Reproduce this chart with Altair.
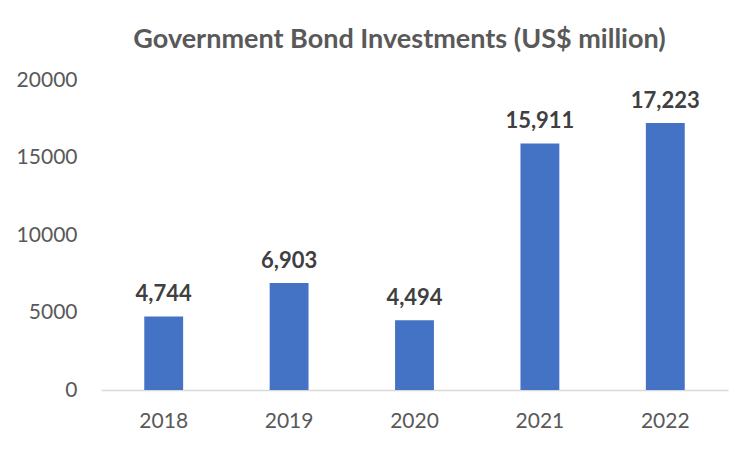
import altair as alt
import pandas as pd

years = ["2018", "2019", "2020", "2021", "2022"]
values = [4744, 6903, 4494, 15911, 17223]
labels = ["4,744", "6,903", "4,494", "15,911", "17,223"]

df = pd.DataFrame({"year": years, "value": values, "label": labels})

FONT = "Lato"

base = alt.Chart(df).encode(
    x=alt.X(
        "year:N",
        sort=years,
        scale=alt.Scale(paddingInner=0.69, paddingOuter=0.345),
        axis=alt.Axis(
            title=None,
            labelAngle=0,
            ticks=False,
            domain=True,
            domainColor="#D9D9D9",
            domainWidth=1.5,
            labelFont=FONT,
            labelFontSize=21,
            labelColor="#595959",
            labelPadding=20,
        ),
    ),
    y=alt.Y(
        "value:Q",
        scale=alt.Scale(domain=[0, 20000], nice=False),
        axis=alt.Axis(
            title=None,
            values=[0, 5000, 10000, 15000, 20000],
            format="d",
            grid=False,
            ticks=False,
            domain=False,
            labelFont=FONT,
            labelFontSize=21,
            labelColor="#595959",
            labelPadding=24,
        ),
    ),
)

bars = base.mark_bar(color="#4472C4")
text = base.mark_text(
    baseline="bottom",
    dy=-10,
    font=FONT,
    fontSize=22,
    fontWeight="bold",
    color="#404040",
).encode(text="label:N")

chart = (
    (bars + text)
    .properties(
        width=627,
        height=310,
        padding={"left": 93, "top": 72, "right": 16, "bottom": 54},
        autosize=alt.AutoSizeParams(type="none"),
        title=alt.TitleParams(
            "Government Bond Investments (US$ million)",
            font=FONT,
            fontSize=27,
            fontWeight="bold",
            color="#595959",
            anchor="middle",
            dx=-15,
            offset=15,
        ),
        background="white",
    )
    .configure_view(stroke=None)
)

chart.save("out.html", embed_options={"renderer": "svg", "actions": False})
